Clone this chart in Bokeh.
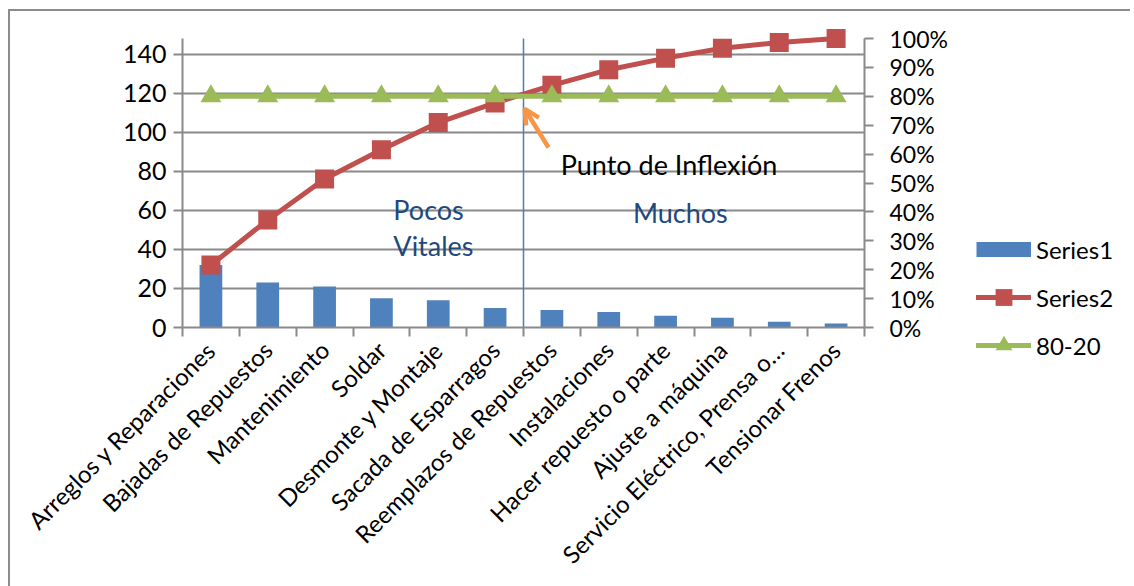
from math import pi
from bokeh.plotting import figure
from bokeh.layouts import row
from bokeh.models import (Range1d, LinearAxis, FixedTicker, Arrow, OpenHead,
                          Label, Legend, LegendItem)
from bokeh.embed import file_html
from bokeh.resources import INLINE

# ---------------- data ----------------
categories = ["Arreglos y Reparaciones", "Bajadas de Repuestos", "Mantenimiento", "Soldar",
              "Desmonte y Montaje", "Sacada de Esparragos", "Reemplazos de Repuestos",
              "Instalaciones", "Hacer repuesto o parte", "Ajuste a máquina",
              "Servicio Eléctrico, Prensa o…", "Tensionar Frenos"]
series1 = [32, 23, 21, 15, 14, 10, 9, 8, 6, 5, 3, 2]
series2 = [21.6, 37.2, 51.4, 61.5, 70.9, 77.7, 83.8, 89.2, 93.2, 96.6, 98.6, 100.0]
series3 = [80, 80, 80, 80, 80, 80, 80, 80, 80, 80, 80, 80]
legend_labels = ["Series1", "Series2", "80-20"]
left_ticks = [0, 20, 40, 60, 80, 100, 120, 140]
right_ticks = [0, 10, 20, 30, 40, 50, 60, 70, 80, 90, 100]
left_max = 148
right_max = 100
split_index = 6

FONT = "Lato"
GRAY = "#8a8a8a"
BLUE = "#4F81BD"
RED = "#C0504D"
GREEN = "#9BBB59"
ORANGE = "#F79646"
NAVY = "#1F497D"
NAN = float("nan")

n = len(categories)
xs = [i + 0.5 for i in range(n)]

# headroom above the top of the axes so the top markers are not clipped
head = 10.0 / 289.0
H = 575
p = figure(width=950, height=H, x_range=Range1d(0, n),
           y_range=Range1d(0, left_max * (1 + head)),
           output_backend="svg", toolbar_location=None,
           min_border_left=172, min_border_right=96, min_border_top=17,
           min_border_bottom=259)
p.frame_align = False
p.outline_line_color = None
p.background_fill_color = "white"
p.border_fill_color = "white"

# grid
p.xgrid.visible = False
p.ygrid.ticker = FixedTicker(ticks=left_ticks)
p.ygrid.grid_line_color = GRAY
p.ygrid.grid_line_width = 2

# left axis
ya = p.yaxis[0]
ya.bounds = (0, left_max)
ya.ticker = FixedTicker(ticks=left_ticks)
ya.axis_line_color = GRAY
ya.axis_line_width = 2
ya.major_tick_line_color = GRAY
ya.major_tick_line_width = 2
ya.major_tick_out = 9
ya.major_tick_in = 0
ya.minor_tick_line_color = None
ya.major_label_standoff = 7
ya.major_label_text_font = FONT
ya.major_label_text_font_size = "25px"
ya.major_label_text_color = "black"

# right axis
p.extra_y_ranges = {"pct": Range1d(0, right_max * (1 + head))}
ra = LinearAxis(y_range_name="pct", ticker=FixedTicker(ticks=right_ticks),
                major_label_overrides={t: f"{t}%" for t in right_ticks})
ra.bounds = (0, right_max)
ra.axis_line_color = GRAY
ra.axis_line_width = 2
ra.major_tick_line_color = GRAY
ra.major_tick_line_width = 2
ra.major_tick_out = 9
ra.major_tick_in = 0
ra.minor_tick_line_color = None
ra.major_label_standoff = 16
ra.major_label_text_font = FONT
ra.major_label_text_font_size = "23px"
ra.major_label_text_color = "black"
p.add_layout(ra, "right")

# x axis
xa = p.xaxis[0]
xa.ticker = FixedTicker(ticks=xs, minor_ticks=list(range(n + 1)))
xa.major_label_overrides = {x: c for x, c in zip(xs, categories)}
xa.major_label_orientation = pi / 4
xa.axis_line_color = GRAY
xa.axis_line_width = 2
xa.major_tick_line_color = None
xa.minor_tick_line_color = GRAY
xa.minor_tick_line_width = 2
xa.minor_tick_out = 9
xa.minor_tick_in = 0
xa.major_label_standoff = 9
xa.major_label_text_font = FONT
xa.major_label_text_font_size = "24px"
xa.major_label_text_color = "black"

# bars
p.vbar(x=xs, top=series1, width=0.4, fill_color=BLUE, line_color=None)

# split line
p.segment(x0=[split_index], y0=[0], x1=[split_index], y1=[left_max],
          line_color="#4A7EBB", line_width=1.5)

# cumulative line
p.line(xs, series2, y_range_name="pct", line_color=RED, line_width=5,
       line_join="round", line_cap="round")
p.scatter(xs, series2, y_range_name="pct", marker="square", size=19,
          fill_color=RED, line_color=None)

# 80-20 line
p.line(xs, series3, y_range_name="pct", line_color=GREEN, line_width=5, line_cap="round")
p.scatter(xs, series3, y_range_name="pct", marker="triangle", size=21,
          fill_color=GREEN, line_color=None)

# arrow
p.add_layout(Arrow(end=OpenHead(size=15, line_color=ORANGE, line_width=4.5),
                   x_start=6.44, y_start=92.2, x_end=6.02, y_end=112.0,
                   line_color=ORANGE, line_width=4.5))

# labels
def lab(x, y, t, color, align):
    p.add_layout(Label(x=x, y=y, text=t, text_align=align, text_baseline="middle",
                       text_font=FONT, text_font_size="27px", text_color=color))

lab(8.56, 83.5, "Punto de Inflexión", "black", "center")
lab(3.71, 60.4, "Pocos", NAVY, "left")
lab(3.71, 42.0, "Vitales", NAVY, "left")
lab(8.76, 58.9, "Muchos", NAVY, "center")

# ---------------- legend panel ----------------
q = figure(width=170, height=H, x_range=Range1d(0, 1), y_range=Range1d(0, 1),
           x_axis_type=None, y_axis_type=None, output_backend="svg", toolbar_location=None,
           min_border=0, min_border_left=0, min_border_right=0, min_border_top=0,
           min_border_bottom=0)
q.frame_align = False
q.outline_line_color = None
q.grid.visible = False
q.background_fill_color = "white"
q.border_fill_color = "white"
g1 = q.line([NAN], [NAN], line_color=BLUE, line_width=15, line_cap="butt")
g2a = q.line([NAN], [NAN], line_color=RED, line_width=5, line_cap="round")
g2b = q.scatter([NAN], [NAN], marker="square", fill_color=RED, line_color=None)
g3a = q.line([NAN], [NAN], line_color=GREEN, line_width=5, line_cap="round")
g3b = q.scatter([NAN], [NAN], marker="triangle", fill_color=GREEN, line_color=None)
legend = Legend(items=[LegendItem(label=legend_labels[0], renderers=[g1]),
                       LegendItem(label=legend_labels[1], renderers=[g2a, g2b]),
                       LegendItem(label=legend_labels[2], renderers=[g3a, g3b])],
                location=(16, 220), glyph_width=55, glyph_height=42, label_height=42,
                spacing=6, padding=10, margin=0, label_standoff=5,
                border_line_color=None, background_fill_alpha=0,
                label_text_font=FONT, label_text_font_size="24px", label_text_color="black")
q.add_layout(legend, "center")

layout = row(p, q)
layout.margin = (9, 0, 0, 8)
layout.styles = {"border-left": "2px solid #8c8c8c", "border-top": "2px solid #8c8c8c"}

open("out.html", "w").write(file_html(layout, INLINE))
